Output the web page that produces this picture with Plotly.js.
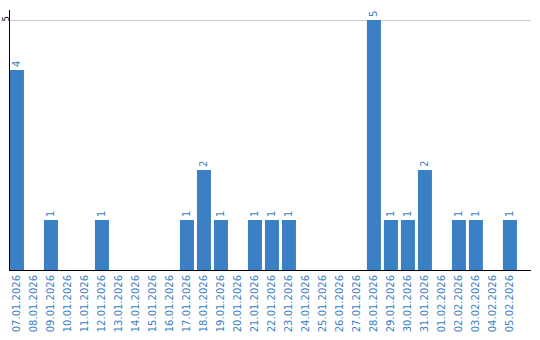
<!DOCTYPE html>
<html><head><meta charset="utf-8">
<script src="https://cdn.plot.ly/plotly-3.0.1.min.js"></script>
<style>html,body{margin:0;padding:0;background:#fff}#chart{width:540px;height:340px}</style>
</head><body><div id="chart"></div>
<script>
const dates = ["07.01.2026","08.01.2026","09.01.2026","10.01.2026","11.01.2026","12.01.2026","13.01.2026","14.01.2026","15.01.2026","16.01.2026","17.01.2026","18.01.2026","19.01.2026","20.01.2026","21.01.2026","22.01.2026","23.01.2026","24.01.2026","25.01.2026","26.01.2026","27.01.2026","28.01.2026","29.01.2026","30.01.2026","31.01.2026","01.02.2026","02.02.2026","03.02.2026","04.02.2026","05.02.2026"];
const counts = [4,0,1,0,0,1,0,0,0,0,1,2,1,0,1,1,1,0,0,0,0,5,1,1,2,0,1,1,0,1];
const yTicks = [5];

const labels = counts.map(v => v > 0 ? String(v) : "");
const blue = "#3b7fc4";

Plotly.newPlot("chart", [{
  type: "bar",
  x: dates,
  y: counts,
  text: labels,
  textposition: "outside",
  textangle: -90,
  cliponaxis: false,
  textfont: {family: "DejaVu Sans", size: 10, color: blue},
  marker: {color: blue},
  hoverinfo: "none"
}], {
  width: 540, height: 340,
  margin: {l: 10, r: 9, t: 10, b: 70},
  paper_bgcolor: "#fff", plot_bgcolor: "#fff",
  bargap: 0.176,
  showlegend: false,
  xaxis: {
    type: "category",
    range: [-0.41, 30.24],
    showline: true, linecolor: "#000", linewidth: 1,
    ticks: "", tickangle: -90,
    tickfont: {family: "DejaVu Sans", size: 10, color: blue},
    showgrid: false, zeroline: false, fixedrange: true
  },
  yaxis: {
    range: [0, 5.2],
    tickvals: yTicks, ticktext: yTicks.map(String),
    tickangle: -90,
    ticklabelstandoff: -3,
    tickfont: {family: "DejaVu Sans", size: 8, color: "#000"},
    showline: true, linecolor: "#000", linewidth: 1,
    showgrid: true, gridcolor: "#cccccc", gridwidth: 1,
    zeroline: false, ticks: "", fixedrange: true
  }
}, {displayModeBar: false, staticPlot: true});
</script></body></html>
